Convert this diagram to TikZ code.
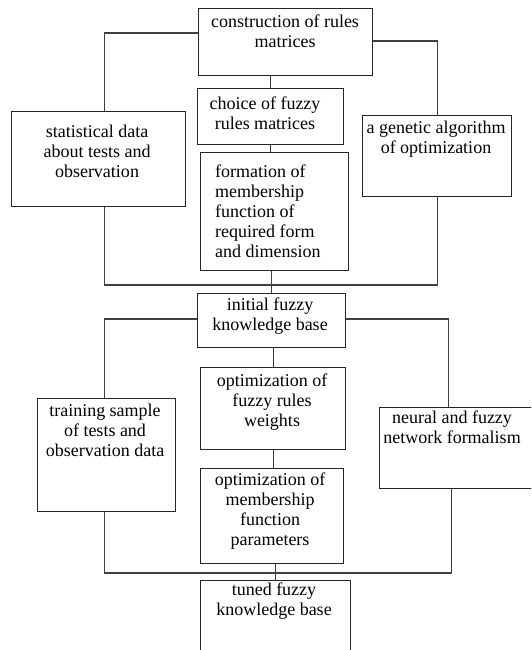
\documentclass[tikz,border=0pt]{standalone}
\usepackage{fontspec}
\setmainfont{Liberation Serif}
\begin{document}
\begin{tikzpicture}[x=1pt,y=-1pt,
  bx/.style={draw=black!85, line width=1.3pt, inner sep=0pt, anchor=north west, fill=white},
  txt/.style={anchor=north, align=center, inner sep=0pt, font=\fontsize{18}{20}\selectfont},
  ln/.style={draw=black!75, line width=1.2pt}]
\useasboundingbox (0,0) rectangle (531,650);
\clip (0,0) rectangle (531,650);
% boxes
\node[bx, minimum width=174pt, minimum height=67pt] (b1) at (198,8) {};
\node[bx, minimum width=146pt, minimum height=56pt] (choice) at (197,88) {};
\node[bx, minimum width=148pt, minimum height=118pt] (form) at (200,152) {};
\node[bx, minimum width=174pt, minimum height=95pt] (stat) at (11,111) {};
\node[bx, minimum width=149pt, minimum height=81pt] (gen) at (362,115) {};
\node[bx, minimum width=148pt, minimum height=54pt] (init) at (197,293) {};
\node[bx, minimum width=138pt, minimum height=113pt] (train) at (37,398) {};
\node[bx, minimum width=145pt, minimum height=82pt] (wts) at (200,367) {};
\node[bx, minimum width=143pt, minimum height=95pt] (omf) at (200,468) {};
\node[bx, minimum width=160pt, minimum height=81pt] (neur) at (379,407) {};
\node[bx, minimum width=150pt, minimum height=90pt] (tuned) at (200,580) {};
% texts
\node[txt] (t1) at (285,15) {construction of rules\\matrices};
\node[txt] (t2) at (265,97) {choice of fuzzy\\rules matrices};
\node[txt, anchor=north west, align=left] (t3) at (215,165) {formation of\\membership\\function of\\required form\\and dimension};
\node[txt] (t4) at (97,125) {statistical data\\about tests and\\observation};
\node[txt] (t5) at (436,121) {a genetic algorithm\\of optimization};
\node[txt] (t6) at (270,298) {initial fuzzy\\knowledge base};
\node[txt] (t7) at (105,404) {training sample\\of tests and\\observation data};
\node[txt] (t8) at (272,374) {optimization of\\fuzzy rules\\weights};
\node[txt] (t9) at (452,411) {neural and fuzzy\\network formalism};
\node[txt] (t10) at (270,473) {optimization of\\membership\\function\\parameters};
\node[txt] (t11) at (274,583) {tuned fuzzy\\knowledge base};
% connectors, upper part
\coordinate (bus1) at (270,285);
\coordinate (bus2) at (272,573);
\draw[ln] ([yshift=-25pt]b1.north west) -| ([xshift=6pt]stat.north);
\draw[ln] ([yshift=-33pt]b1.north east) -| (gen.north);
\draw[ln] (choice.north) -- (choice.north |- b1.south);
\draw[ln] (choice.south) -- (choice.south |- form.north);
\draw[ln] ([xshift=6pt]stat.south) |- (bus1);
\draw[ln] (gen.south) |- (bus1);
\draw[ln] (init.north) -- (init.north |- form.south);
% connectors, lower part
\draw[ln] ([yshift=-26pt]init.north west) -| ([xshift=-2pt]train.north);
\draw[ln] ([yshift=-26pt]init.north east) -| ([xshift=-11pt]neur.north);
\draw[ln] (wts.north) -- (wts.north |- init.south);
\draw[ln] (wts.south) -- (wts.south |- omf.north);
\draw[ln] ([xshift=-2pt]train.south) |- (bus2);
\draw[ln] ([xshift=-8pt]neur.south) |- (bus2);
\draw[ln] (tuned.north) -- (tuned.north |- omf.south);
\end{tikzpicture}
\end{document}
